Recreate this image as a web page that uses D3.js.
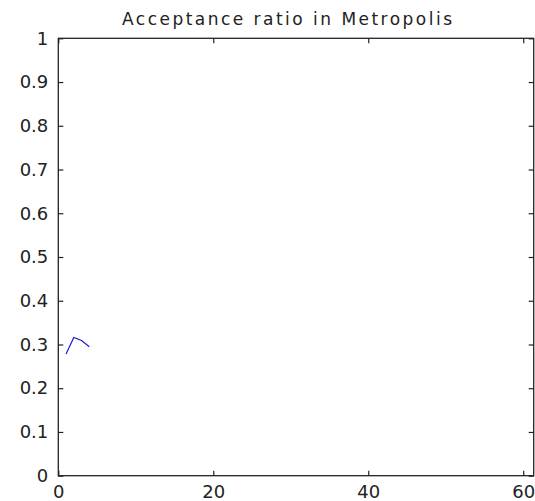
<!DOCTYPE html>
<html>
<head>
<meta charset="utf-8">
<script src="https://cdn.jsdelivr.net/npm/d3@7"></script>
<style>
body { margin: 0; background: #fff; }
svg { display: block; }
text { font-family: "DejaVu Sans", sans-serif; fill: #222; }
</style>
</head>
<body>
<script>
// acceptance ratio per iteration
const iterations = [1, 2, 3, 4];
const acceptance = [0.278, 0.316, 0.309, 0.295];
const xTicks = [0, 20, 40, 60];
const yTicks = [0, 0.1, 0.2, 0.3, 0.4, 0.5, 0.6, 0.7, 0.8, 0.9, 1];
const title = "Acceptance ratio in Metropolis";

const W = 535, H = 501;
let x = d3.scaleLinear().domain([0, 61.35]).range([58.3, 533.7]);
let y = d3.scaleLinear().domain([0, 1]).range([475.7, 38.3]);

let svg = d3.select("body").append("svg")
	.attr("width", W)
	.attr("height", H);

// plot line
svg.append("path")
	.datum(iterations.map((d, i) => [d, acceptance[i]]))
	.attr("fill", "none")
	.attr("stroke", "#1a1ad0")
	.attr("stroke-width", 1.2)
	.attr("d", d3.line().x(d => x(d[0])).y(d => y(d[1])));

// axes, ticks pointing inwards like matlab
let fmt = d => d3.format("")(+d.toFixed(1));
svg.append("g").attr("class", "axis")
	.attr("transform", "translate(" + x.range()[0] + ",0)")
	.call(d3.axisLeft(y).tickValues(yTicks).tickFormat(fmt).tickSizeInner(-5).tickSizeOuter(0).tickPadding(10));
svg.append("g").attr("class", "axis")
	.attr("transform", "translate(" + x.range()[1] + ",0)")
	.call(d3.axisRight(y).tickValues(yTicks).tickFormat("").tickSizeInner(-5).tickSizeOuter(0));
svg.append("g").attr("class", "axis")
	.attr("transform", "translate(0," + y.range()[0] + ")")
	.call(d3.axisBottom(x).tickValues(xTicks).tickSizeInner(-5).tickSizeOuter(0).tickPadding(10));
svg.append("g").attr("class", "axis")
	.attr("transform", "translate(0," + y.range()[1] + ")")
	.call(d3.axisTop(x).tickValues(xTicks).tickFormat("").tickSizeInner(-5).tickSizeOuter(0));

svg.selectAll(".axis .domain").remove();
svg.selectAll(".axis line").attr("stroke", "#222").attr("stroke-width", 1.2);
svg.selectAll(".axis text")
	.attr("font-family", "DejaVu Sans, sans-serif")
	.attr("font-size", 18)
	.attr("fill", "#222");

// frame
svg.append("rect")
	.attr("x", x.range()[0])
	.attr("y", y.range()[1])
	.attr("width", x.range()[1] - x.range()[0])
	.attr("height", y.range()[0] - y.range()[1])
	.attr("fill", "none")
	.attr("stroke", "#222")
	.attr("stroke-width", 1.3);

svg.append("text")
	.attr("x", 287)
	.attr("y", 25)
	.attr("text-anchor", "middle")
	.attr("font-size", 17)
	.attr("textLength", 330)
	.attr("lengthAdjust", "spacing")
	.text(title);
</script>
</body>
</html>
